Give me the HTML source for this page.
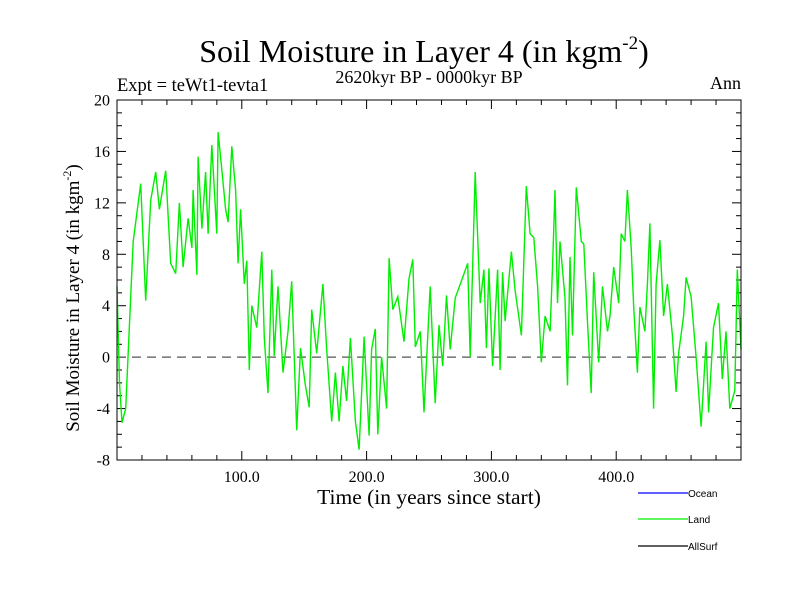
<!DOCTYPE html>
<html><head><meta charset="utf-8">
<style>
body{margin:0;background:#fff;}
svg text{font-family:"Liberation Serif",serif;}
</style></head>
<body>
<svg id="chart" width="800" height="600" viewBox="0 0 800 600" xmlns="http://www.w3.org/2000/svg">
<text x="424" y="62" font-size="32" text-anchor="middle">Soil Moisture in Layer 4 (in kgm<tspan font-size="19" dy="-13">-2</tspan><tspan dy="13">)</tspan></text>
<text x="429" y="83" font-size="18" text-anchor="middle">2620kyr BP - 0000kyr BP</text>
<text x="117" y="91" font-size="18.5">Expt = teWt1-tevta1</text>
<text x="741" y="89" font-size="18" text-anchor="end">Ann</text>
<g id="ticks"></g>
<g id="ylabels"></g>
<g id="xlabels"></g>
<line id="zero" stroke="#555" stroke-width="1.3" stroke-dasharray="9,6"/>
<path id="land" fill="none" stroke="#00ee00" stroke-width="1.4"/>
<rect x="117" y="100" width="624" height="360" fill="none" stroke="#000" stroke-width="1"/>
<text x="429" y="504" font-size="21.5" text-anchor="middle">Time (in years since start)</text>
<text transform="translate(79,298) rotate(-90)" font-size="19" text-anchor="middle">Soil Moisture in Layer 4 (in kgm<tspan font-size="12" dy="-8">-2</tspan><tspan dy="8">)</tspan></text>
<g>
<line x1="638" y1="493" x2="688" y2="493" stroke="#0000ff" stroke-width="1.3"/>
<text x="688" y="497" font-size="10" style="font-family:'Liberation Sans',sans-serif">Ocean</text>
<line x1="638" y1="519" x2="688" y2="519" stroke="#00ee00" stroke-width="1.3"/>
<text x="688" y="523" font-size="10" style="font-family:'Liberation Sans',sans-serif">Land</text>
<line x1="638" y1="546" x2="688" y2="546" stroke="#000" stroke-width="1.3"/>
<text x="688" y="550" font-size="10" style="font-family:'Liberation Sans',sans-serif">AllSurf</text>
</g>
</svg>
<script>
const years = [0,2,4,7,11,13,19,23,27,31,34,39,43,47,50,53,57,60,61,64,65,68,71,73,76,80,81,84,87,89,92,95,97,99,102,104,106,108,112,116,118,121,124,126,129,133,137,140,144,147,151,154,156,160,165,168,172,175,178,181,184,187,191,194,198,202,204,207,209,212,216,218,221,225,230,234,237,239,243,246,251,255,258,261,264,267,271,277,281,283,287,291,294,296,298,301,305,307,309,311,316,319,324,328,331,334,337,340,343,347,349,351,353,355,359,361,363,365,368,372,374,377,380,382,386,389,393,395,398,402,404,407,409,412,414,417,419,423,425,427,430,432,435,438,441,445,448,450,454,456,460,464,468,472,474,478,482,485,488,491,495,497,500];
const landValues = [5.5,-2,-5.1,-4,4.7,9,13.5,4.4,12.2,14.4,11.5,14.5,7.3,6.5,12,7,10.8,8.5,13,6.4,15.6,10,14.4,9.6,16.5,9.6,17.5,14.6,11.5,10.5,16.4,13,7.3,11.5,5.7,7.5,-1,4,2.3,8.2,1.5,-2.8,6.8,0.1,5.5,-1.2,2,5.9,-5.7,0.7,-2.2,-3.9,3.7,0.3,5.7,0.6,-5,-1.2,-5,-0.7,-3.4,1.5,-5,-7.2,1.6,-6.1,0.6,2.2,-6,0,-4,7.7,3.7,4.7,1.2,6.1,7.6,0.8,2,-4.3,5.5,-3.6,2.5,-0.7,4.8,0.6,4.6,6.2,7.3,0,14.4,4.2,6.8,0.7,6.9,-0.7,6.8,-1,6.6,2.8,8.2,5.2,1.7,13.3,9.6,9.3,5.5,-0.4,3.2,2,7.2,13,4.2,9,4.6,-2.2,7.8,1.7,13.2,9,8.8,2.7,-2.8,6.6,-0.4,5.5,2,3.2,7,4.2,9.6,9,13,8.5,3.9,-1.2,3.9,2,5.7,10.4,-4,5.7,9.1,3.2,5.7,1.7,-2.7,0.3,3.2,6.2,4.7,0,-5.4,1.2,-4.3,2.3,4.2,-1.7,2,-4,-2.6,6.8,0.6];
const yTickLabels = ["-8","-4","0","4","8","12","16","20"];
const yTickValues = [-8,-4,0,4,8,12,16,20];
const xTickLabels = ["100.0","200.0","300.0","400.0"];
const xTickValues = [100,200,300,400];

const X0=117,X1=741,Y0=460,Y1=100;
const xScale = v => X0 + (v-0)/(500-0)*(X1-X0);
const yScale = v => Y0 - (v-(-8))/(20-(-8))*(Y0-Y1);
const NS="http://www.w3.org/2000/svg";
function mk(tag, attrs, parent){const e=document.createElementNS(NS,tag);for(const k in attrs)e.setAttribute(k,attrs[k]);parent.appendChild(e);return e;}

const ticks=document.getElementById('ticks');
for(let v=-8;v<=20;v++){
  const y=yScale(v), major=(v%4===0), L=major?9:5;
  const a=mk('line',{x1:X0,y1:y,x2:X0+L,y2:y,stroke:'#000','stroke-width':1},ticks);
  
  
  const b=mk('line',{x1:X1,y1:y,x2:X1-L,y2:y,stroke:'#000','stroke-width':1},ticks);
  
  
}
for(let v=20;v<500;v+=20){
  const x=xScale(v), major=(v%100===0), L=major?9:5;
  const a=mk('line',{x1:x,y1:Y0,x2:x,y2:Y0-L,stroke:'#000','stroke-width':1},ticks);
  
  
  const b=mk('line',{x1:x,y1:Y1,x2:x,y2:Y1+L,stroke:'#000','stroke-width':1},ticks);
  
  
}
const yl=document.getElementById('ylabels');
yTickValues.forEach((v,i)=>{
  const t=mk('text',{x:110,y:yScale(v)+5.5,'font-size':16,'text-anchor':'end'},yl);
  
  
  t.textContent=yTickLabels[i];
});
const xl=document.getElementById('xlabels');
xTickValues.forEach((v,i)=>{
  const t=mk('text',{x:xScale(v),y:482,'font-size':16,'text-anchor':'middle'},xl);
  
  
  t.textContent=xTickLabels[i];
});
const z=document.getElementById('zero');
z.setAttribute('x1',X0);z.setAttribute('x2',X1);
z.setAttribute('y1',yScale(0));z.setAttribute('y2',yScale(0));
document.getElementById('land').setAttribute('d',
  years.map((yr,i)=>(i?'L':'M')+xScale(yr).toFixed(1)+','+yScale(landValues[i]).toFixed(1)).join(' '));
</script>
</body></html>
